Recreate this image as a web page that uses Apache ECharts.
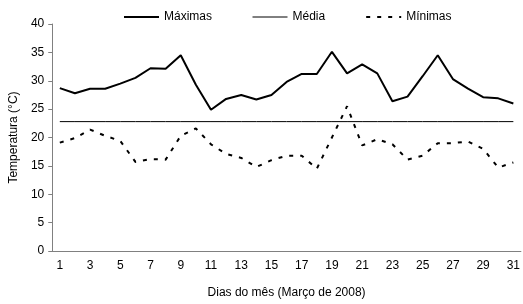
<!DOCTYPE html>
<html>
<head>
<meta charset="utf-8">
<script src="https://cdn.jsdelivr.net/npm/echarts@6/dist/echarts.min.js"></script>
<style>
  html, body { margin: 0; padding: 0; background: #fff; }
  #chart { width: 523px; height: 304px; }
</style>
</head>
<body>
<div id="chart"></div>
<script>
// dias de março de 2008
var days = [];
for (var d = 1; d <= 31; d++) days.push(String(d));

var maximas = [28.7, 27.8, 28.6, 28.6, 29.5, 30.5, 32.2, 32.1, 34.5, 29.3,
  24.9, 26.8, 27.5, 26.7, 27.5, 29.8, 31.2, 31.2, 35.1, 31.3,
  32.9, 31.3, 26.4, 27.2, 30.8, 34.5, 30.3, 28.6, 27.1, 26.9, 26.0];

var media = [22.8, 22.8, 22.8, 22.8, 22.8, 22.8, 22.8, 22.8, 22.8, 22.8,
  22.8, 22.8, 22.8, 22.8, 22.8, 22.8, 22.8, 22.8, 22.8, 22.8,
  22.8, 22.8, 22.8, 22.8, 22.8, 22.8, 22.8, 22.8, 22.8, 22.8, 22.8];

var minimas = [19.1, 19.9, 21.4, 20.3, 19.4, 15.7, 16.2, 16.1, 20.3, 21.6,
  18.8, 17.1, 16.4, 14.8, 16.0, 16.8, 16.8, 14.5, 20.0, 25.5,
  18.6, 19.7, 18.8, 16.1, 16.8, 19.0, 19.0, 19.3, 18.0, 14.7, 15.6];

var chart = echarts.init(document.getElementById('chart'));
var txt = { color: '#000', fontFamily: 'Liberation Sans, Arial, sans-serif', fontSize: 12 };

chart.setOption({
  animation: false,
  textStyle: txt,
  legend: {
    left: 123,
    top: 11,
    padding: 0,
    itemWidth: 35,
    itemHeight: 12,
    itemGap: 40,
    itemStyle: { opacity: 0, borderWidth: 0 },
    textStyle: { color: '#000', fontSize: 12, fontFamily: txt.fontFamily },
    data: [
      { name: 'Máximas', lineStyle: { width: 2 } },
      { name: 'Média', lineStyle: { width: 1 } },
      { name: 'Mínimas', lineStyle: { width: 2 } }
    ]
  },
  grid: { left: 52, right: 1, top: 24, bottom: 47 },
  xAxis: {
    type: 'category',
    data: days,
    boundaryGap: true,
    name: 'Dias do mês (Março de 2008)',
    nameLocation: 'middle',
    nameGap: 36,
    nameTextStyle: txt,
    axisLine: { lineStyle: { color: '#808080', width: 1 } },
    axisTick: { interval: 0, length: 4, lineStyle: { color: '#808080' } },
    axisLabel: { interval: 1, color: '#000', fontSize: 12, margin: 9 },
    splitLine: { show: false }
  },
  yAxis: {
    type: 'value',
    min: 0,
    max: 40,
    interval: 5,
    name: 'Temperatura (°C)',
    nameLocation: 'middle',
    nameGap: 29,
    nameTextStyle: txt,
    axisLine: { show: true, lineStyle: { color: '#808080', width: 1 } },
    axisTick: { show: true, length: 4, lineStyle: { color: '#808080' } },
    axisLabel: { color: '#000', fontSize: 12, margin: 8 },
    splitLine: { show: false }
  },
  series: [
    {
      name: 'Máximas',
      type: 'line',
      data: maximas,
      symbol: 'none',
      lineStyle: { color: '#000', width: 2 },
      itemStyle: { color: '#000' }
    },
    {
      name: 'Média',
      type: 'line',
      data: media,
      symbol: 'none',
      lineStyle: { color: '#000', width: 1 },
      itemStyle: { color: '#000' }
    },
    {
      name: 'Mínimas',
      type: 'line',
      data: minimas,
      symbol: 'none',
      lineStyle: { color: '#000', width: 2, type: [4, 7] },
      itemStyle: { color: '#000' }
    }
  ]
});
</script>
</body>
</html>
